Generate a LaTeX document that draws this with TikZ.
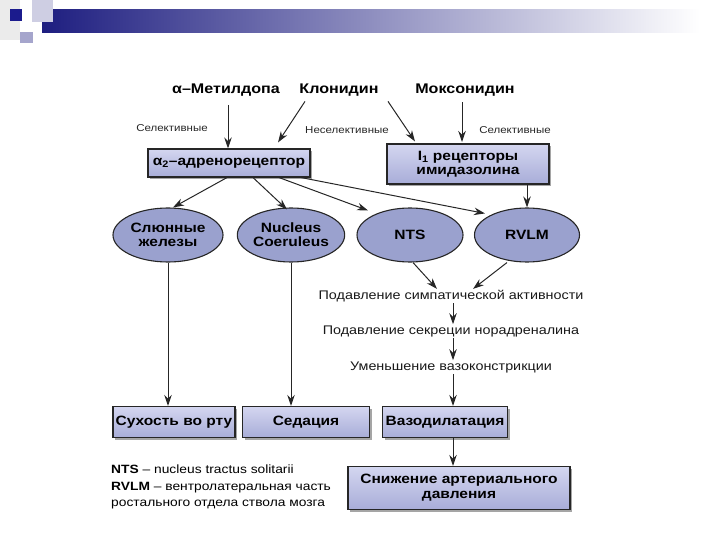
\documentclass[tikz,border=0pt]{standalone}
\usepackage{fontspec}
\setmainfont{Liberation Sans}[FakeStretch=1.15]
\usetikzlibrary{arrows.meta,shadows,shapes.geometric}
\definecolor{boxtop}{HTML}{D4D6F0}
\definecolor{boxbot}{HTML}{A8ADD8}
\definecolor{ellfill}{HTML}{9AA1CE}
\definecolor{navy}{HTML}{1E1E80}
\tikzset{
  arr/.style={-{Stealth[length=11pt,width=7.5pt]}, line width=1pt, black!85},
  box/.style={draw=black!85, line width=1.1pt, top color=boxtop, bottom color=boxbot,
    font=\bfseries\fontsize{13.5}{14}\selectfont, align=center, inner sep=1pt,
    drop shadow={shadow xshift=2pt, shadow yshift=-2pt, fill=black!70, opacity=0.5}},
  ell/.style={ellipse, draw=black!85, line width=1.1pt, fill=ellfill,
    font=\bfseries\fontsize{13.5}{14}\selectfont, align=center, inner sep=0pt,
    minimum height=54pt},
  drug/.style={font=\bfseries\fontsize{14}{15}\selectfont, inner sep=1pt},
  small/.style={font=\fontsize{10}{11}\selectfont, text=black!85, inner sep=1pt},
  midtext/.style={font=\fontsize{12.5}{13}\selectfont, text=black!90, inner sep=1pt},
}
\begin{document}
\begin{tikzpicture}[x=1pt,y=-1pt]
\useasboundingbox (0,0) rectangle (720,540);
% decoration
\fill[black!8] (0,0) rectangle (20,40);
\shade[left color=navy, right color=white] (42,10) rectangle (700,33);
\fill[navy!22] (32,0) rectangle (53,22);
\fill[navy!90!blue] (10,9) rectangle (22,21);
\fill[navy!40] (20,32) rectangle (33,43);

% drugs
\node[drug] (met) at (226,90) {α–Метилдопа};
\node[drug] (kl) at (339,90) {Клонидин};
\node[drug] (mox) at (465,90) {Моксонидин};

\node[small] (s1) at (172,128) {Селективные};
\node[small] (s2) at (347,130) {Неселективные};
\node[small] (s3) at (515,130) {Селективные};

% receptors
\node[box, minimum width=162pt, minimum height=28pt] (a2) at (229,163) {α\textsubscript{2}–адренорецептор};
\node[box, minimum width=162pt, minimum height=40pt, font=\bfseries\fontsize{13.5}{13}\selectfont] (i1) at (468,164) {I\textsubscript{1} рецепторы\\[1pt]имидазолина};

% ellipses
\node[ell, minimum width=110pt] (sl) at (168,235) {Слюнные\\железы};
\node[ell, minimum width=107pt] (nc) at (291,235) {Nucleus\\Coeruleus};
\node[ell, minimum width=106pt] (nts) at (410,235) {NTS};
\node[ell, minimum width=105pt] (rvlm) at (527,235) {RVLM};

% chain texts
\node[midtext] (t1) at (451,296) {Подавление симпатической активности};
\node[midtext] (t2) at (451,331) {Подавление секреции норадреналина};
\node[midtext] (t3) at (451,367) {Уменьшение вазоконстрикции};

% bottom boxes
\node[box, minimum width=122pt, minimum height=31pt] (b1) at (174,422) {Сухость во рту};
\node[box, minimum width=127pt, minimum height=31pt] (b2) at (306,422) {Седация};
\node[box, minimum width=125pt, minimum height=31pt] (b3) at (445,422) {Вазодилатация};
\node[box, minimum width=222pt, minimum height=43pt, font=\bfseries\fontsize{13.5}{15}\selectfont] (b4) at (459,488) {Снижение артериального\\давления};

% legend
\node[anchor=west, align=left, font=\fontsize{12}{16.5}\selectfont, inner sep=0pt] (leg) at (111,487)
  {\textbf{NTS} – nucleus tractus solitarii\\\textbf{RVLM} – вентролатеральная часть\\ростального отдела ствола мозга};

% arrows
\draw[arr] (228,105) -- (a2.north -| 228,0);
\draw[arr] ([xshift=-34pt,yshift=-4pt]kl.south) -- ([xshift=49pt,yshift=6pt]a2.north);
\draw[arr] ([xshift=49pt,yshift=-4pt]kl.south) -- ([xshift=-53pt,yshift=2pt]i1.north);
\draw[arr] (mox.south -| 462,0) ++(0,5) -- (462,142);
\draw[arr] ([xshift=-2pt]a2.south) -- ([xshift=5pt]sl.north);
\draw[arr] ([xshift=24pt]a2.south) -- ([xshift=-4pt,yshift=-2pt]nc.north);
\draw[arr] ([xshift=50pt]a2.south) -- ([xshift=-42pt,yshift=-3pt]nts.north);
\draw[arr] ([xshift=72pt]a2.south) -- ([xshift=-42pt,yshift=-6pt]rvlm.north);
\draw[arr] (i1.south -| rvlm.north) -- (rvlm.north);
\draw[arr] ([xshift=3pt]nts.south) -- ([xshift=-14pt]t1.north);
\draw[arr] ([xshift=-20pt]rvlm.south) -- ([xshift=22pt]t1.north);
\draw[arr] ([xshift=2pt]t1.south) -- ([xshift=2pt]t2.north);
\draw[arr] ([xshift=2pt]t2.south) -- ([xshift=2pt]t3.north);
\draw[arr] ([xshift=2pt]t3.south) -- ([xshift=2pt]t3.south |- b3.north);
\draw[arr] (b3.south -| 453,0) -- (b4.north -| 453,0);
\draw[arr] (sl.south) -- (sl.south |- b1.north);
\draw[arr] (nc.south) -- (nc.south |- b2.north);
\end{tikzpicture}
\end{document}
